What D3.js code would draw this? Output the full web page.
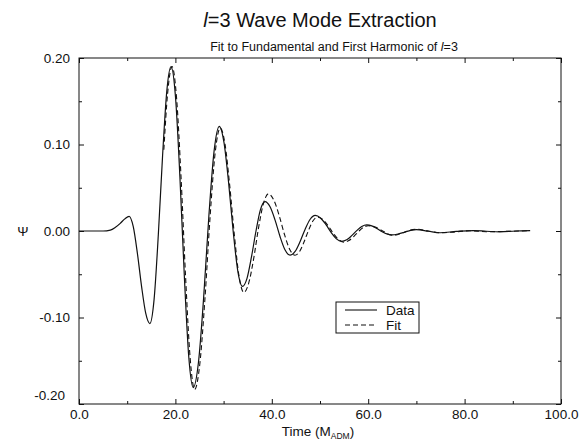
<!DOCTYPE html>
<html><head><meta charset="utf-8">
<script src="https://cdn.jsdelivr.net/npm/d3@7"></script>
<style>
body{margin:0;background:#fff}
svg{display:block;font-family:"Liberation Sans",Arial,Helvetica,sans-serif}
</style>
</head><body><svg id="c" width="579" height="442"></svg>
<script>
// ---- data ----
const dataTime = [0,5,6.5,7.5,8.5,9.5,10.4,11.26,12.12,12.98,13.84,14.7,15.58,16.46,17.34,18.22,19.1,20.02,20.94,21.86,22.78,23.7,24.78,25.86,26.94,28.02,29.1,30.06,31.02,31.98,32.94,33.9,34.84,35.78,36.72,37.66,38.6,39.64,40.68,41.72,42.76,43.8,44.84,45.88,46.92,47.96,49.0,50.1,51.2,52.3,53.4,54.5,55.54,56.58,57.62,58.66,59.7,60.74,61.78,62.82,63.86,64.9,66.2,67.5,68.8,70.0,72.5,74.9,78.3,81.8,84.5,87.3,90.5,93.6];
const dataPsi = [0,0,0.001,0.004,0.0085,0.014,0.017,0.005,-0.026,-0.064,-0.095,-0.107,-0.079,-0.004,0.087,0.162,0.190,0.155,0.062,-0.053,-0.146,-0.181,-0.152,-0.077,0.017,0.092,0.121,0.103,0.057,0.000,-0.046,-0.064,-0.055,-0.030,0.000,0.025,0.034,0.028,0.0126,-0.0066,-0.022,-0.028,-0.0236,-0.0121,0.0021,0.0136,0.018,0.0151,0.0076,-0.0016,-0.0091,-0.012,-0.0102,-0.0054,0.0004,0.0052,0.007,0.0059,0.003,-0.0005,-0.0034,-0.0045,-0.0035,-0.0015,0.0008,0.0015,-0.0003,-0.002,-0.0005,0.0005,-0.0003,-0.001,0.0,0.0005];
const fitTime = [17.6,18.4,19.3,20.24,21.18,22.12,23.06,24.0,25.06,26.12,27.18,28.24,29.3,30.28,31.26,32.24,33.22,34.2,35.22,36.24,37.26,38.28,39.3,40.4,41.5,42.6,43.7,44.8,45.74,46.68,47.62,48.56,49.5,50.6,51.7,52.8,53.9,55.0,56,57,58,59,60,61.3,62.4,63.4,64.3,65.2,67.2,68.7,70.3,72.5,75.3,78,81,84.5,88,93.5];
const fitPsi = [0.094,0.160,0.190,0.154,0.061,-0.054,-0.147,-0.183,-0.154,-0.079,0.015,0.090,0.119,0.101,0.053,-0.005,-0.053,-0.071,-0.060,-0.032,0.004,0.032,0.043,0.036,0.0185,-0.0035,-0.021,-0.028,-0.024,-0.0128,0.0008,0.0118,0.016,0.0132,0.006,-0.003,-0.010,-0.013,-0.011,-0.0064,-0.0006,0.0042,0.006,0.005,0.002,-0.001,-0.004,-0.005,-0.002,0.001,0.002,0.000,-0.002,-0.001,0.0003,-0.0008,-0.0005,0.0003];
const xMajorTicks = [0,20,40,60,80,100];
const xMinorTicks = [10,30,50,70,90];
const yMajorTicks = [-0.2,-0.1,0,0.1,0.2];
const yMinorTicks = [-0.15,-0.05,0.05,0.15];
const seriesNames = ["Data","Fit"];

// ---- layout ----
const svg = d3.select("#c");
const L = 79, R = 561, T = 58, B = 404;
const x = d3.scaleLinear().domain([0,100]).range([L,R]);
const y = d3.scaleLinear().domain([-0.2,0.2]).range([B,T]);
const ink = "#111";
const fmtX = d => d.toFixed(1);
const fmtY = d => d.toFixed(2).replace("−","-");

// frame
svg.append("rect").attr("x",L).attr("y",T).attr("width",R-L).attr("height",B-T)
  .attr("fill","none").attr("stroke",ink).attr("stroke-width",1);

function styleAxis(g){ g.select(".domain").remove(); g.selectAll("line").attr("stroke",ink); }
function styleText(g){ g.selectAll("text").attr("font-size",13.5).attr("fill",ink).attr("font-family","Liberation Sans, Arial, sans-serif"); }

// bottom axis
svg.append("g").attr("transform",`translate(0,${B})`)
  .call(d3.axisBottom(x).tickValues(xMajorTicks).tickSize(-5).tickPadding(5).tickFormat(fmtX))
  .call(styleAxis).call(styleText);
svg.append("g").attr("transform",`translate(0,${B})`)
  .call(d3.axisBottom(x).tickValues(xMinorTicks).tickSize(-3).tickFormat(""))
  .call(styleAxis);
// top axis ticks
svg.append("g").attr("transform",`translate(0,${T})`)
  .call(d3.axisTop(x).tickValues(xMajorTicks).tickSize(-5).tickFormat(""))
  .call(styleAxis);
svg.append("g").attr("transform",`translate(0,${T})`)
  .call(d3.axisTop(x).tickValues(xMinorTicks).tickSize(-3).tickFormat(""))
  .call(styleAxis);
// left axis
const yl = svg.append("g").attr("transform",`translate(${L},0)`)
  .call(d3.axisLeft(y).tickValues(yMajorTicks).tickSize(-5).tickPadding(9).tickFormat(fmtY))
  .call(styleAxis).call(styleText);
yl.selectAll(".tick").filter(d => d === -0.2).select("text").attr("dy","-0.3em").attr("x",-14);
svg.append("g").attr("transform",`translate(${L},0)`)
  .call(d3.axisLeft(y).tickValues(yMinorTicks).tickSize(-3).tickFormat(""))
  .call(styleAxis);
// right axis ticks
svg.append("g").attr("transform",`translate(${R},0)`)
  .call(d3.axisRight(y).tickValues(yMajorTicks).tickSize(-5).tickFormat(""))
  .call(styleAxis);
svg.append("g").attr("transform",`translate(${R},0)`)
  .call(d3.axisRight(y).tickValues(yMinorTicks).tickSize(-3).tickFormat(""))
  .call(styleAxis);

// lines
const line = d3.line().x(d => x(d[0])).y(d => y(d[1])).curve(d3.curveMonotoneX);
const dataPts = dataTime.map((t,i) => [t, dataPsi[i]]);
const fitPts = fitTime.map((t,i) => [t, fitPsi[i]]);
svg.append("path").attr("d", line(dataPts)).attr("fill","none").attr("stroke",ink).attr("stroke-width",1.2);
svg.append("path").attr("d", line(fitPts)).attr("fill","none").attr("stroke",ink).attr("stroke-width",1.1).attr("stroke-dasharray","5,3");

// titles
const title = svg.append("text").attr("x",320).attr("y",27).attr("text-anchor","middle").attr("font-size",20).attr("fill",ink);
title.append("tspan").attr("font-style","italic").text("l");
title.append("tspan").text("=3 Wave Mode Extraction");
const sub = svg.append("text").attr("x",334).attr("y",51).attr("text-anchor","middle").attr("font-size",12.5).attr("fill",ink);
sub.append("tspan").text("Fit to Fundamental and First Harmonic of ");
sub.append("tspan").attr("font-style","italic").text("l");
sub.append("tspan").text("=3");

// axis labels
const xl = svg.append("text").attr("x",318).attr("y",436).attr("text-anchor","middle").attr("font-size",13.5).attr("fill",ink);
xl.append("tspan").text("Time (M");
xl.append("tspan").attr("font-size",8.5).attr("dy",3).text("ADM");
xl.append("tspan").attr("dy",-3).text(")");
svg.append("text").attr("x",23).attr("y",236).attr("text-anchor","middle").attr("font-size",13.5).attr("fill",ink).text("Ψ");

// legend
const lg = svg.append("g");
lg.append("rect").attr("x",336).attr("y",302).attr("width",83).attr("height",31).attr("fill","#fff").attr("stroke",ink).attr("stroke-width",1);
const dashes = [null,"5,3"];
seriesNames.forEach((n,i) => {
  const yy = 310 + i*15;
  lg.append("line").attr("x1",345).attr("x2",377).attr("y1",yy).attr("y2",yy)
    .attr("stroke",ink).attr("stroke-width",1.1).attr("stroke-dasharray",dashes[i]);
  lg.append("text").attr("x",386).attr("y",yy+4.5).attr("font-size",13.5).attr("fill",ink).text(n);
});
</script>
</body></html>
